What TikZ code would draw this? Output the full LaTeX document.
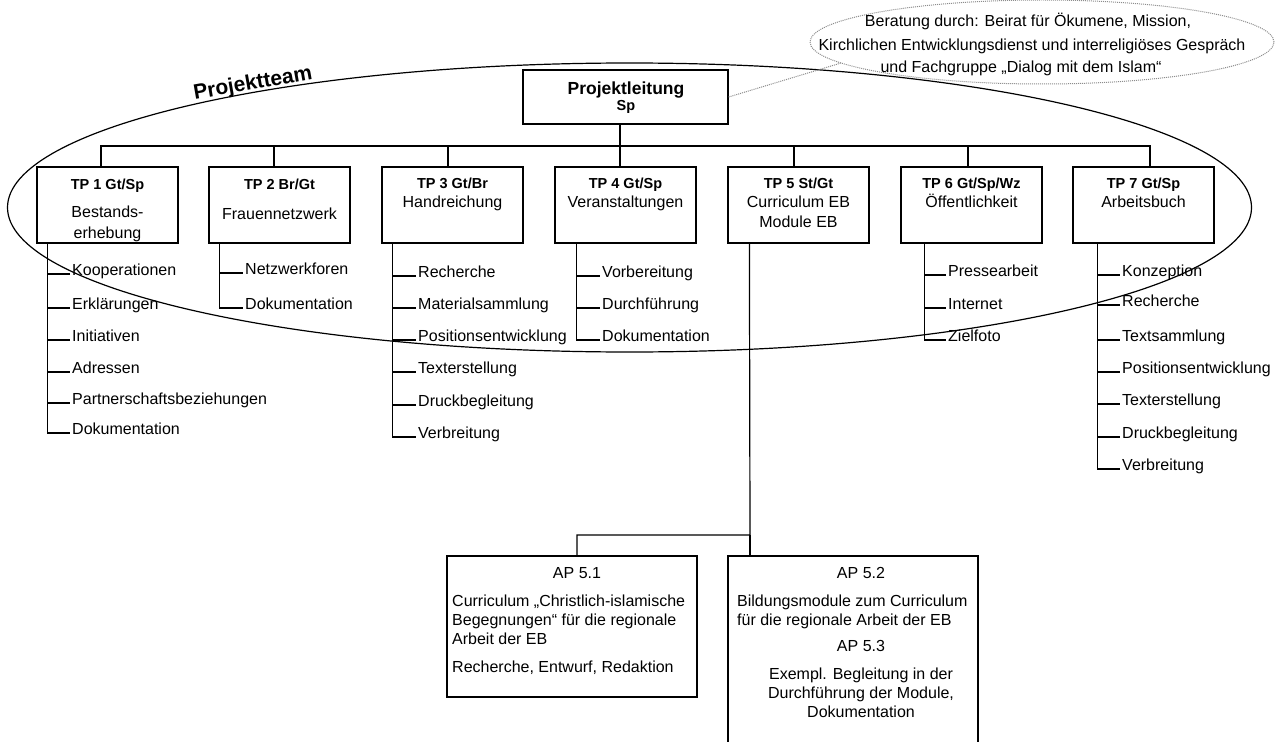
\documentclass[tikz,border=0pt]{standalone}
\usepackage{fontspec}
\setmainfont{Liberation Sans}
\usetikzlibrary{shapes.geometric}
\begin{document}
\begin{tikzpicture}[x=1pt,y=-1pt,
  wire/.style={line width=1.2pt, black},
  box/.style={draw, line width=1.2pt, minimum width=141pt, minimum height=76pt, inner sep=0pt},
  apbox/.style={draw, line width=1.2pt, minimum width=250pt, inner sep=0pt},
  ttl/.style={font=\fontsize{14.5}{17}\selectfont\bfseries, anchor=base, inner sep=0pt},
  txt/.style={font=\fontsize{16}{19}\selectfont, anchor=base, inner sep=0pt},
  txl/.style={font=\fontsize{16}{19}\selectfont, anchor=base west, inner sep=0pt},
  item/.style={font=\fontsize{16}{19}\selectfont, anchor=base west, inner sep=0pt},
  dots/.style={draw=black!45, line width=1pt, densely dotted}]
\useasboundingbox (0,0) rectangle (1284,741);
\clip (0,0) rectangle (1284,741);

% team ellipse
\node[draw, ellipse, line width=1.2pt, minimum width=1244pt, minimum height=289pt, inner sep=0pt] (team) at (629.5,207.5) {};
\node[font=\fontsize{21}{25}\selectfont\bfseries, rotate=10, inner sep=0pt] (teamlabel) at (253,84) {Projektteam};

% callout
\node[dots, ellipse, minimum width=464pt, minimum height=84pt, inner sep=0pt] (co) at (1042,42) {};
\node[txt] (co1) at (1028,27) {Beratung durch: Beirat für Ökumene, Mission,};
\node[txt] (co2) at (1032,51) {Kirchlichen Entwicklungsdienst und interreligiöses Gespräch};
\node[txt] (co3) at (1021,73) {und Fachgruppe „Dialog mit dem Islam“};

% Projektleitung
\node[draw, line width=1.2pt, minimum width=205pt, minimum height=54pt, inner sep=0pt] (pl) at (625.5,97) {};
\node[ttl, font=\fontsize{17.5}{20}\selectfont\bfseries] (plt) at (626,95) {Projektleitung};
\node[ttl] (pls) at (626,111) {Sp};
\draw[dots] (pl.east) -- (co.186);

% TP boxes
\node[box] (tp1) at (107.5,205) {};
\node[box] (tp2) at (279.5,205) {};
\node[box] (tp3) at (452.5,205) {};
\node[box] (tp4) at (625.5,205) {};
\node[box] (tp5) at (798.5,205) {};
\node[box] (tp6) at (971.5,205) {};
\node[box] (tp7) at (1143.5,205) {};

\node[ttl] (tp1a) at (107.5,189) {TP 1 Gt/Sp};
\node[txt] (tp1b) at (107.5,217) {Bestands-};
\node[txt] (tp1c) at (107.5,238) {erhebung};
\node[ttl] (tp2a) at (279.5,189) {TP 2 Br/Gt};
\node[txt] (tp2b) at (279.5,219) {Frauennetzwerk};
\node[ttl] (tp3a) at (452.5,188) {TP 3 Gt/Br};
\node[txt] (tp3b) at (452.5,207) {Handreichung};
\node[ttl] (tp4a) at (625.5,188) {TP 4 Gt/Sp};
\node[txt] (tp4b) at (625.5,207) {Veranstaltungen};
\node[ttl] (tp5a) at (798.5,188) {TP 5 St/Gt};
\node[txt] (tp5b) at (798.5,207) {Curriculum EB};
\node[txt] (tp5c) at (798.5,227) {Module EB};
\node[ttl] (tp6a) at (971.5,188) {TP 6 Gt/Sp/Wz};
\node[txt] (tp6b) at (971.5,207) {Öffentlichkeit};
\node[ttl] (tp7a) at (1143.5,188) {TP 7 Gt/Sp};
\node[txt] (tp7b) at (1143.5,207) {Arbeitsbuch};

% tree top
\coordinate (bus) at (620,146);
\draw[wire] ([xshift=-5.5pt]pl.south) -- (bus);
\foreach \n/\dx in {tp1/-6.5,tp2/-5.5,tp3/-4.5,tp4/-5.5,tp5/-4.5,tp6/-3.5,tp7/6.5}
  \draw[wire] (bus) -| ([xshift=\dx pt]\n.north);

% TP1 list
\node[item] (a1) at (72,275) {Kooperationen};
\node[item] (a2) at (72,309) {Erklärungen};
\node[item] (a3) at (72,341) {Initiativen};
\node[item] (a4) at (72,373) {Adressen};
\node[item] (a5) at (72,404) {Partnerschaftsbeziehungen};
\node[item] (a6) at (72,434) {Dokumentation};
\foreach \n in {a1,a2,a3,a4,a5,a6}
  \draw[wire] ([xshift=11pt]tp1.south west) |- ([xshift=-2pt,yshift=1pt]\n.base west);

% TP2 list
\node[item] (b1) at (245,274) {Netzwerkforen};
\node[item] (b2) at (245,309) {Dokumentation};
\foreach \n in {b1,b2}
  \draw[wire] ([xshift=11pt]tp2.south west) |- ([xshift=-2pt,yshift=1pt]\n.base west);

% TP3 list
\node[item] (c1) at (418,277) {Recherche};
\node[item] (c2) at (418,309) {Materialsammlung};
\node[item] (c3) at (418,341) {Positionsentwicklung};
\node[item] (c4) at (418,373) {Texterstellung};
\node[item] (c5) at (418,406) {Druckbegleitung};
\node[item] (c6) at (418,438) {Verbreitung};
\foreach \n in {c1,c2,c3,c4,c5,c6}
  \draw[wire] ([xshift=11pt]tp3.south west) |- ([xshift=-2pt,yshift=1pt]\n.base west);

% TP4 list
\node[item] (d1) at (602,277) {Vorbereitung};
\node[item] (d2) at (602,309) {Durchführung};
\node[item] (d3) at (602,341) {Dokumentation};
\foreach \n in {d1,d2,d3}
  \draw[wire] ([xshift=22pt]tp4.south west) |- ([xshift=-2pt,yshift=1pt]\n.base west);

% TP6 list
\node[item] (f1) at (948,276) {Pressearbeit};
\node[item] (f2) at (948,309) {Internet};
\node[item] (f3) at (948,341) {Zielfoto};
\foreach \n in {f1,f2,f3}
  \draw[wire] ([xshift=24pt]tp6.south west) |- ([xshift=-2pt,yshift=1pt]\n.base west);

% TP7 list
\node[item] (g1) at (1122,276) {Konzeption};
\node[item] (g2) at (1122,306) {Recherche};
\node[item] (g3) at (1122,341) {Textsammlung};
\node[item] (g4) at (1122,373) {Positionsentwicklung};
\node[item] (g5) at (1122,405) {Texterstellung};
\node[item] (g6) at (1122,438) {Druckbegleitung};
\node[item] (g7) at (1122,470) {Verbreitung};
\foreach \n in {g1,g2,g3,g4,g5,g6,g7}
  \draw[wire] ([xshift=25pt]tp7.south west) |- ([xshift=-2pt,yshift=1pt]\n.base west);

% AP boxes
\node[apbox, minimum height=141pt] (ap51) at (572,626.5) {};
\node[apbox, minimum height=189pt] (ap52) at (853,650.5) {};
\coordinate (j5) at (750,535);
\draw[wire] ([xshift=22pt]tp5.south west) -- (j5) -| ([xshift=5pt]ap51.north);
\draw[wire] (j5) -- (j5 |- ap52.north);

\node[txt] (ap51a) at (577,578) {AP 5.1};
\node[txl] (ap51b) at (452,606) {Curriculum „Christlich-islamische};
\node[txl] (ap51c) at (452,625) {Begegnungen“ für die regionale};
\node[txl] (ap51d) at (452,644) {Arbeit der EB};
\node[txl] (ap51e) at (452,672) {Recherche, Entwurf, Redaktion};

\node[txt] (ap52a) at (861,578) {AP 5.2};
\node[txl] (ap52b) at (737,606) {Bildungsmodule zum Curriculum};
\node[txl] (ap52c) at (737,625) {für die regionale Arbeit der EB};
\node[txt] (ap53a) at (861,651) {AP 5.3};
\node[txt] (ap53b) at (861,679) {Exempl. Begleitung in der};
\node[txt] (ap53c) at (861,698) {Durchführung der Module,};
\node[txt] (ap53d) at (861,717) {Dokumentation};
\end{tikzpicture}
\end{document}
